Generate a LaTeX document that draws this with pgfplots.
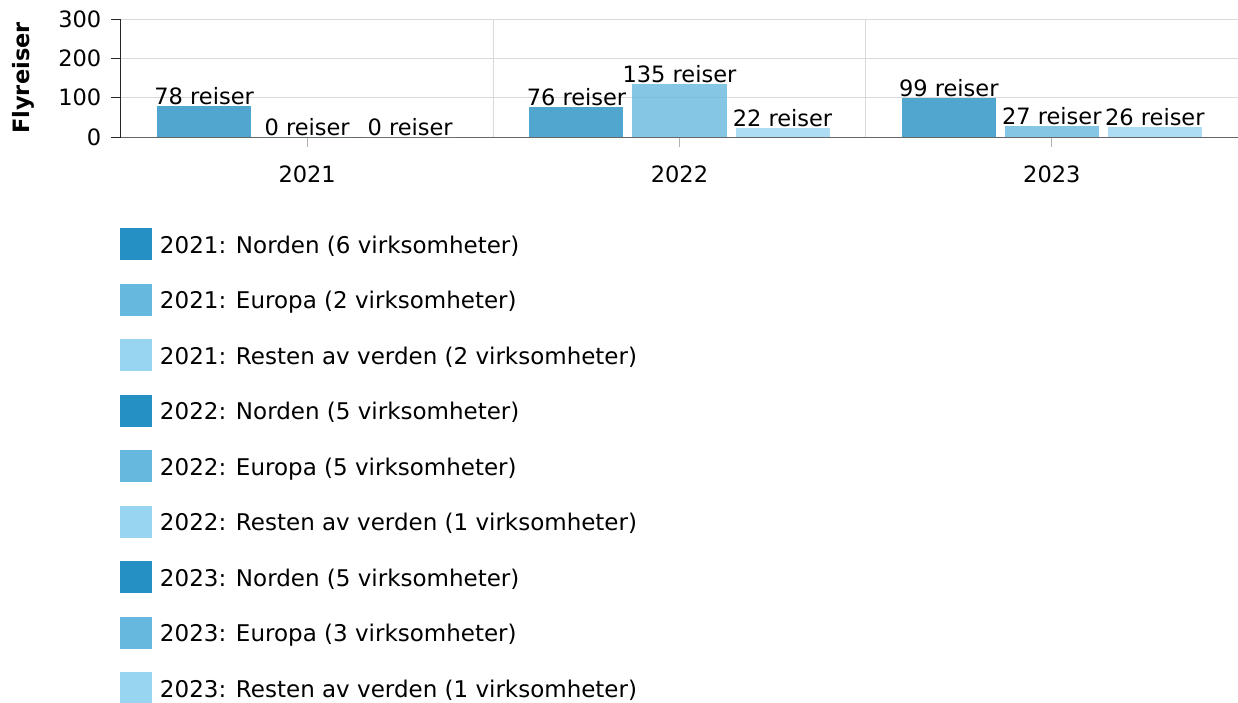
\documentclass[border=0pt]{standalone}
\usepackage{pgfplots}
\pgfplotsset{compat=1.18}
\usepackage{fontspec}
\setmainfont{DejaVu Sans}
\definecolor{cN}{HTML}{2590C4}
\definecolor{cE}{HTML}{66B8DF}
\definecolor{cR}{HTML}{98D5F1}
\definecolor{gridc}{HTML}{DADADA}
\begin{document}
\fontsize{22.5}{27}\selectfont
\begin{tikzpicture}
\begin{axis}[
  scale only axis, width=1117pt, height=118pt,
  xmin=-0.5, xmax=2.5, ymin=0, ymax=300,
  ybar, bar width=0.2525,
  axis x line*=bottom, axis y line*=left,
  axis line style={-},
  x axis line style={draw=gray!80!black, line width=1pt},
  y axis line style={draw=black!85, line width=1pt},
  tick align=outside, major tick length=10pt,
  xtick={0,1,2}, xticklabels={2021,2022,2023},
  x tick style={draw=gray!60, line width=1pt},
  y tick style={draw=black!85, line width=1pt},
  minor xtick={0.5,1.5,2.5}, xminorgrids,
  minor x tick style={draw=none},
  ytick={0,100,200,300}, ymajorgrids,
  major grid style={draw=gridc, line width=1pt},
  minor grid style={draw=gridc, line width=1pt},
  /pgf/number format/assume math mode=true,
  xticklabel style={font=\fontsize{22.5}{27}\selectfont, yshift=-11pt},
  yticklabel style={font=\fontsize{22.5}{27}\selectfont, xshift=-2pt},
  ylabel={\bfseries Flyreiser},
  ylabel style={at={(rel axis cs:0,0.5)}, anchor=center, yshift=98pt, font=\fontsize{22.5}{27}\selectfont},
  nodes near coords={\pgfmathprintnumber{\pgfplotspointmeta} reiser},
  every node near coord/.append style={font=\fontsize{22.5}{27}\selectfont, text=black, anchor=south, inner sep=1pt, fill opacity=1, text opacity=1},
  legend cell align=left,
  legend image code/.code={\draw[#1, draw=none, fill opacity=1] (0pt,-14pt) rectangle (32pt,18pt);},
  legend style={at={(rel axis cs:0,0)}, anchor=north west, xshift=-1pt, yshift=-91pt,
    draw=none, fill=none, inner sep=0pt, outer sep=0pt, row sep=23.5pt,
    nodes={inner sep=0pt, font=\fontsize{23}{27}\selectfont},
    /tikz/every odd column/.append style={column sep=8pt}},
]
\addplot[fill=cN, draw=none, fill opacity=0.8, bar shift=-0.2767] coordinates {(0,78)};
\addlegendentry{2021: Norden (6 virksomheter)}
\addplot[fill=cE, draw=none, fill opacity=0.8, bar shift=0] coordinates {(0,0)};
\addlegendentry{2021: Europa (2 virksomheter)}
\addplot[fill=cR, draw=none, fill opacity=0.8, bar shift=0.2767] coordinates {(0,0)};
\addlegendentry{2021: Resten av verden (2 virksomheter)}
\addplot[fill=cN, draw=none, fill opacity=0.8, bar shift=-0.2767] coordinates {(1,76)};
\addlegendentry{2022: Norden (5 virksomheter)}
\addplot[fill=cE, draw=none, fill opacity=0.8, bar shift=0] coordinates {(1,135)};
\addlegendentry{2022: Europa (5 virksomheter)}
\addplot[fill=cR, draw=none, fill opacity=0.8, bar shift=0.2767] coordinates {(1,22)};
\addlegendentry{2022: Resten av verden (1 virksomheter)}
\addplot[fill=cN, draw=none, fill opacity=0.8, bar shift=-0.2767] coordinates {(2,99)};
\addlegendentry{2023: Norden (5 virksomheter)}
\addplot[fill=cE, draw=none, fill opacity=0.8, bar shift=0] coordinates {(2,27)};
\addlegendentry{2023: Europa (3 virksomheter)}
\addplot[fill=cR, draw=none, fill opacity=0.8, bar shift=0.2767] coordinates {(2,26)};
\addlegendentry{2023: Resten av verden (1 virksomheter)}
\end{axis}
\pgfresetboundingbox
\path[use as bounding box] (-121pt,-565pt) rectangle (1117pt,137pt);
\end{tikzpicture}
\end{document}
